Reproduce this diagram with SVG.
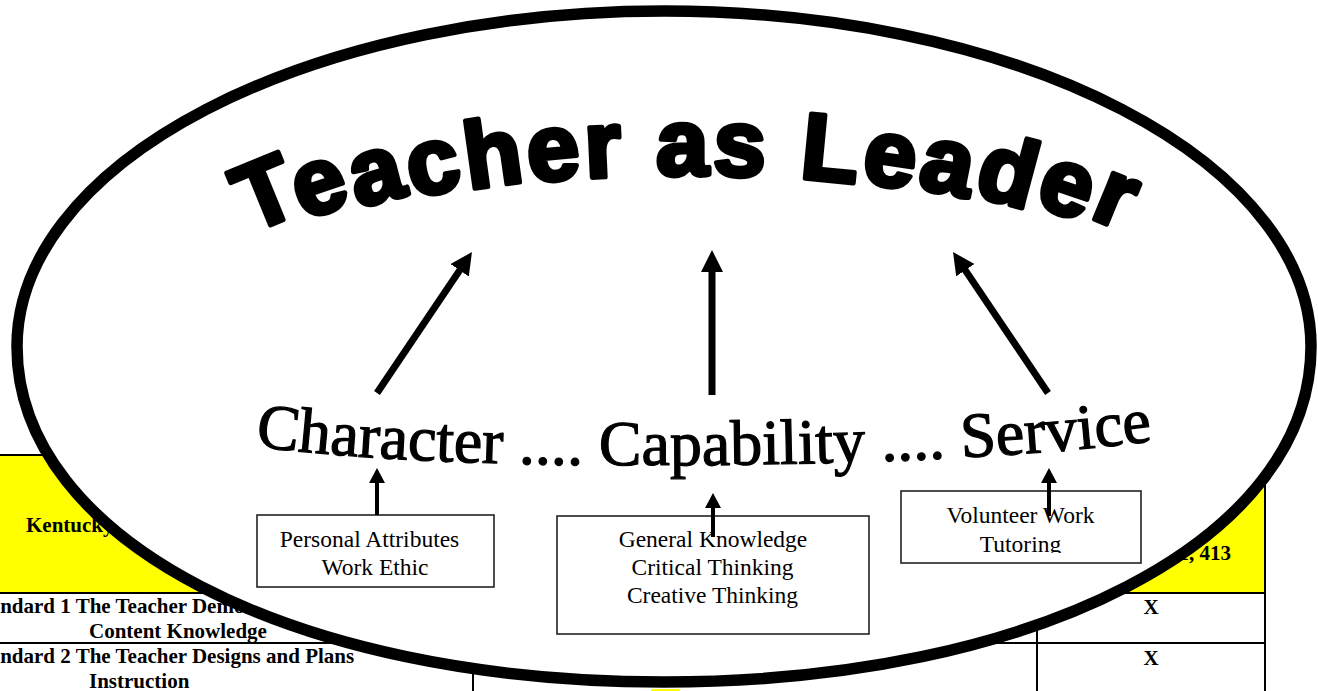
<svg xmlns="http://www.w3.org/2000/svg" width="1318" height="691" viewBox="0 0 1318 691">
<style>
.tb{font-family:"Liberation Serif","Times New Roman",serif;font-weight:bold;font-size:21px;fill:#000}
.tl{stroke:#000;stroke-width:2;fill:none}
.box{fill:#fff;stroke:#222;stroke-width:1.6}
.bt{font-family:"Liberation Serif","Times New Roman",serif;font-size:23.5px;fill:#000;text-anchor:middle}
.arr{stroke:#000;stroke-width:7;fill:none}
.sarr{stroke:#000;stroke-width:4;fill:none}
</style>
<defs>
<marker id="big" markerUnits="userSpaceOnUse" markerWidth="24" markerHeight="24" refX="2" refY="11" orient="auto">
<path d="M0,0 L22,11 L0,22 z" fill="#000"/>
</marker>
<marker id="small" markerUnits="userSpaceOnUse" markerWidth="18" markerHeight="18" refX="1" refY="8" orient="auto">
<path d="M0,0 L15,8 L0,16 z" fill="#000"/>
</marker>
<path id="arc" d="M -12 316.7 A 1800 1800 0 0 1 1388 316.7"/>
<path id="wave" d="M 255 446 C 450 475, 950 470, 1160 440"/>
<clipPath id="clip3"><rect x="900" y="490" width="243" height="63"/></clipPath>
</defs>

<g id="table">
<rect x="0" y="455" width="1265" height="138" fill="#ffff00"/>
<rect x="651" y="689" width="29" height="2" fill="#ffff00"/>
<line class="tl" x1="0" y1="455" x2="1265" y2="455"/>
<line class="tl" x1="0" y1="593" x2="1265" y2="593"/>
<line class="tl" x1="0" y1="643" x2="1265" y2="643"/>
<line class="tl" x1="473" y1="455" x2="473" y2="691"/>
<line class="tl" x1="1037" y1="455" x2="1037" y2="691"/>
<line class="tl" x1="1265" y1="455" x2="1265" y2="691"/>
<text class="tb" x="26" y="532">Kentucky Teacher Standards</text>
<text class="tb" x="1231" y="560" text-anchor="end">1, 413</text>
<text class="tb" x="-29" y="613">Standard 1 The Teacher Demonstrates</text>
<text class="tb" x="89" y="638">Content Knowledge</text>
<text class="tb" x="-29" y="663">Standard 2 The Teacher Designs and Plans</text>
<text class="tb" x="89" y="688">Instruction</text>
<text class="tb" x="1151" y="614" text-anchor="middle">X</text>
<text class="tb" x="1151" y="665" text-anchor="middle">X</text>
</g>

<g id="ellipse">
<path d="M 17 346.5 A 647 335.5 0 0 1 1311 346.5 C 1311 539.4, 1036 682, 664 682 C 292 682, 17 539.4, 17 346.5 Z" fill="#fff" stroke="#000" stroke-width="11.5"/>
</g>

<g id="title">
<text font-family="'Liberation Sans',Arial,sans-serif" font-weight="bold" font-size="94" letter-spacing="4" fill="#000" stroke="#000" stroke-width="5" stroke-linejoin="round" text-anchor="middle" rotate="-9 -7 -5 -4 -2 -1 0 0 0 0 0 1 2 3 5 7 9"><textPath href="#arc" startOffset="50%">Teacher as Leader</textPath></text>
</g>

<g id="pillars">
<text font-family="'Liberation Serif','Times New Roman',serif" font-size="64" fill="#000" stroke="#000" stroke-width="1.2"><textPath href="#wave" startOffset="0">Character .... Capability .... Service</textPath></text>
</g>

<g id="box-personal">
<rect class="box" x="257" y="515" width="237" height="72"/>
<text class="bt" x="369.5" y="547">Personal Attributes</text>
<text class="bt" x="375" y="575">Work Ethic</text>
</g>

<g id="box-general">
<rect class="box" x="557" y="516" width="312" height="118"/>
<text class="bt" x="713" y="547">General Knowledge</text>
<text class="bt" x="712.5" y="575">Critical Thinking</text>
<text class="bt" x="712.5" y="603">Creative Thinking</text>
</g>

<g id="box-volunteer">
<rect class="box" x="901" y="491" width="240" height="72"/>
<g clip-path="url(#clip3)">
<text class="bt" x="1020.5" y="523">Volunteer Work</text>
<text class="bt" x="1020.5" y="552">Tutoring</text>
</g>
</g>

<g id="connectors">
<line class="arr" x1="377" y1="393" x2="460.8" y2="268.6" marker-end="url(#big)"/>
<line class="arr" x1="712" y1="395" x2="712" y2="270" marker-end="url(#big)"/>
<line class="arr" x1="1048" y1="393" x2="964.2" y2="268.6" marker-end="url(#big)"/>
<line class="sarr" x1="377" y1="515" x2="377" y2="482" marker-end="url(#small)"/>
<line class="sarr" x1="713" y1="537" x2="713" y2="507" marker-end="url(#small)"/>
<line class="sarr" x1="1049" y1="516" x2="1049" y2="482" marker-end="url(#small)"/>
</g>
</svg>
